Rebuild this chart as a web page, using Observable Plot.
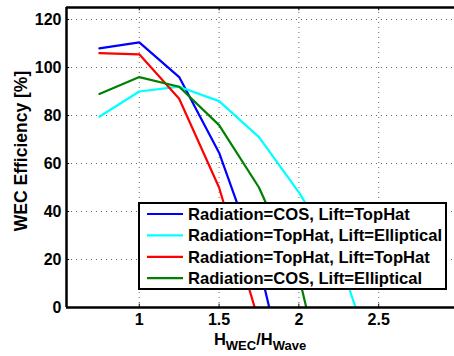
<!DOCTYPE html>
<html>
<head>
<meta charset="utf-8">
<script src="https://cdn.jsdelivr.net/npm/d3@7"></script>
<script src="https://cdn.jsdelivr.net/npm/@observablehq/plot@0.6"></script>
<style>
  html, body { margin: 0; padding: 0; background: #fff; overflow: hidden; }
  svg { display: block; }
</style>
</head>
<body>
<div id="chart"></div>
<script>
const xs = [0.75, 1, 1.25, 1.5, 1.75, 2, 2.25, 2.5];
const seriesNames = [
  "Radiation=COS, Lift=TopHat",
  "Radiation=TopHat, Lift=Elliptical",
  "Radiation=TopHat, Lift=TopHat",
  "Radiation=COS, Lift=Elliptical"
];
const seriesColors = ["#0000ff", "#00ffff", "#ff0000", "#008000"];
const blueValues = [108, 110.5, 96, 64.5, 18, -52];
const cyanValues = [79.5, 90, 92, 86, 71, 48, 21, -29];
const redValues = [106, 105.5, 87, 50, -6];
const greenValues = [89, 96, 92, 76, 50, 13, -57];
const xTicks = [1, 1.5, 2, 2.5];
const yTicks = [0, 20, 40, 60, 80, 100, 120];

const allValues = [blueValues, cyanValues, redValues, greenValues];
const rows = [];
allValues.forEach((vals, i) => {
  vals.forEach((v, j) => rows.push({series: seriesNames[i], x: xs[j], y: v}));
});

const X0 = 0.544, X1 = 2.975, Y0 = 0, Y1 = 125;
const font = "'Liberation Sans', Arial, sans-serif";

const svg = Plot.plot({
  width: 454,
  height: 356,
  marginLeft: 66,
  marginRight: 0,
  marginTop: 7,
  marginBottom: 49,
  style: {fontFamily: font, fontWeight: "bold", fontSize: "16px", color: "#000", background: "#fff"},
  x: {domain: [X0, X1]},
  y: {domain: [Y0, Y1]},
  marks: [
    Plot.ruleY(yTicks.filter(d => d > 0), {stroke: "#666", strokeDasharray: "1,4", strokeWidth: 1}),
    Plot.ruleX(xTicks, {stroke: "#666", strokeDasharray: "1,4", strokeWidth: 1}),
    Plot.ruleY(yTicks, {x1: X0, x2: X0 + 0.02, stroke: "#000"}),
    Plot.ruleX(xTicks, {y1: Y0, y2: Y0 + 1.4, stroke: "#000"}),
    Plot.ruleX(xTicks, {y1: Y1, y2: Y1 - 1.4, stroke: "#000"}),
    Plot.line(rows, {x: "x", y: "y", z: "series", stroke: d => seriesColors[seriesNames.indexOf(d.series)], strokeWidth: 2.2, clip: true}),
    Plot.ruleY([Y0], {x1: X0, x2: X1, stroke: "#000", strokeWidth: 2.5}),
    Plot.ruleY([Y1], {x1: X0, x2: X1, stroke: "#000", strokeWidth: 2.5}),
    Plot.ruleX([X0], {y1: Y0, y2: Y1, stroke: "#000", strokeWidth: 2.5}),
    Plot.axisY({ticks: yTicks, tickSize: 0, tickPadding: 5, label: null}),
    Plot.axisX({ticks: xTicks, tickSize: 0, tickPadding: 6, label: null, tickFormat: d => String(d)})
  ]
});

const s = d3.select(svg);
// Legend
const lg = s.append("g");
lg.append("rect").attr("x", 139).attr("y", 203).attr("width", 307).attr("height", 86)
  .attr("fill", "#fff").attr("stroke", "#000").attr("stroke-width", 2);
seriesNames.forEach((name, i) => {
  const yy = 214 + i * 21.4;
  lg.append("line").attr("x1", 147).attr("x2", 183).attr("y1", yy).attr("y2", yy)
    .attr("stroke", seriesColors[i]).attr("stroke-width", 2.2);
  lg.append("text").attr("x", 188).attr("y", yy).attr("dy", "0.36em")
    .attr("text-anchor", "start")
    .attr("font-family", font).attr("font-weight", "bold").attr("font-size", 16.6)
    .attr("fill", "#000").text(name);
});
// Y label
s.append("text").attr("transform", "translate(27,151) rotate(-90)")
  .attr("text-anchor", "middle").attr("font-family", font).attr("font-weight", "bold")
  .attr("font-size", 17.5).attr("fill", "#000").text("WEC Efficiency [%]");
// X label with subscripts
const xl = s.append("text").attr("x", 260).attr("y", 345).attr("text-anchor", "middle")
  .attr("font-family", font).attr("font-weight", "bold").attr("font-size", 16.5).attr("fill", "#000");
xl.append("tspan").text("H");
xl.append("tspan").attr("font-size", 13).attr("dy", 5).text("WEC");
xl.append("tspan").attr("dy", -5).text("/H");
xl.append("tspan").attr("font-size", 13).attr("dy", 5).text("Wave");

document.getElementById("chart").appendChild(svg);
</script>
</body>
</html>
